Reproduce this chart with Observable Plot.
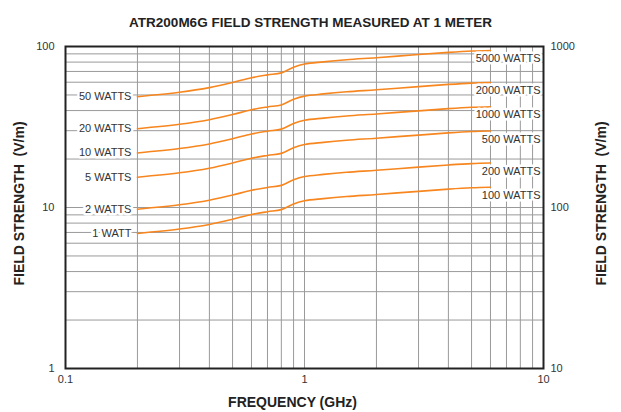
<!DOCTYPE html>
<html>
<head>
<meta charset="utf-8">
<script src="https://cdn.jsdelivr.net/npm/d3@7"></script>
<script src="https://cdn.jsdelivr.net/npm/@observablehq/plot@0.6"></script>
<style>
  html, body { margin: 0; padding: 0; background: #fff; }
  svg { font-family: "Liberation Sans", Arial, Helvetica, sans-serif; }
</style>
</head>
<body>
<div id="chart"></div>
<script>
// Frequency points (GHz)
const freqs = [0.2, 0.3, 0.4, 0.5, 0.6, 0.7, 0.8, 0.9, 1.0, 1.2, 1.5, 2, 3, 4, 5, 6];

// Field strength (V/m, left axis) for each input power
const w1  = [6.90, 7.35, 7.85, 8.45, 9.05, 9.42, 9.70, 10.50, 11.00, 11.35, 11.70, 12.05, 12.60, 13.00, 13.25, 13.35];
const w2  = [9.76, 10.39, 11.10, 11.95, 12.80, 13.32, 13.72, 14.85, 15.56, 16.05, 16.55, 17.04, 17.82, 18.38, 18.74, 18.88];
const w5  = [15.43, 16.44, 17.55, 18.89, 20.24, 21.06, 21.69, 23.48, 24.60, 25.38, 26.16, 26.94, 28.17, 29.07, 29.63, 29.85];
const w10 = [21.82, 23.24, 24.82, 26.72, 28.62, 29.79, 30.67, 33.20, 34.79, 35.89, 37.00, 38.11, 39.84, 41.11, 41.90, 42.22];
const w20 = [30.86, 32.87, 35.11, 37.79, 40.47, 42.13, 43.38, 46.96, 49.19, 50.76, 52.32, 53.89, 56.35, 58.14, 59.26, 59.70];
const w50 = [48.79, 51.97, 55.51, 59.75, 63.99, 66.61, 68.59, 74.25, 77.78, 80.26, 82.73, 85.21, 89.10, 91.92, 93.69, 94.40];

// Labels: left (low power) and right (high power, read on right axis = 10x)
const leftLabels  = ["1 WATT", "2 WATTS", "5 WATTS", "10 WATTS", "20 WATTS", "50 WATTS"];
const rightLabels = ["100 WATTS", "200 WATTS", "500 WATTS", "1000 WATTS", "2000 WATTS", "5000 WATTS"];

// Axis ticks
const xTicks = [0.1, 1, 10];
const xTickLabels = ["0.1", "1", "10"];
const yTicks = [1, 10, 100];
const yLeftTickLabels = ["1", "10", "100"];
const yRightTickLabels = ["10", "100", "1000"];
const xGrid = [0.2,0.3,0.4,0.5,0.6,0.7,0.8,0.9,1,2,3,4,5,6,7,8,9];
const yGrid = [2,3,4,5,6,7,8,9,10,20,30,40,50,60,70,80,90];

const titleText = "ATR200M6G FIELD STRENGTH MEASURED AT 1 METER";
const xTitle = "FREQUENCY (GHz)";
const yTitle = "FIELD STRENGTH\u00a0\u00a0(V/m)";

const series = [w1, w2, w5, w10, w20, w50];
const rows = [];
series.forEach((vals, s) => vals.forEach((v, j) => rows.push({f: freqs[j], v, s})));
const starts = series.map((vals, s) => ({f: freqs[0], v: vals[0], label: leftLabels[s]}));
const ends = series.map((vals, s) => ({f: xTicks[2], v: vals[vals.length - 1], label: rightLabels[s]}));

const gridColor = "#9a9a9a";
const orange = "#f7861f";

const fmt = (ticks, labels) => (d) => labels[ticks.findIndex(t => Math.abs(t - d) < 1e-9)];

const chart = Plot.plot({
  width: 621,
  height: 412,
  marginLeft: 65,
  marginRight: 78,
  marginTop: 46,
  marginBottom: 44,
  style: {fontFamily: "'Liberation Sans', Arial, sans-serif", fontSize: "11px", color: "#333", background: "#fff"},
  x: {type: "log", domain: [0.1, 10]},
  y: {type: "log", domain: [1, 100]},
  marks: [
    Plot.gridX(xGrid, {stroke: gridColor, strokeOpacity: 1, strokeWidth: 1}),
    Plot.gridY(yGrid, {stroke: gridColor, strokeOpacity: 1, strokeWidth: 1}),
    Plot.line(rows, {x: "f", y: "v", z: "s", stroke: orange, strokeWidth: 1.6, curve: "catmull-rom"}),
    Plot.text(starts, {x: "f", y: "v", text: "label", textAnchor: "end", dx: -6, fontSize: 11, fill: "#333", stroke: "white", strokeWidth: 5}),
    Plot.text(ends, {x: "f", y: "v", text: "label", textAnchor: "end", dx: -3, dy: 8, fontSize: 11, fill: "#333", stroke: "white", strokeWidth: 5}),
    Plot.axisX({ticks: xTicks, tickFormat: fmt(xTicks, xTickLabels), tickSize: 0, tickPadding: 7, fontSize: 11,
      label: xTitle, labelAnchor: "center", labelArrow: "none", labelOffset: 38}),
    Plot.axisY({anchor: "left", ticks: yTicks, tickFormat: fmt(yTicks, yLeftTickLabels), tickSize: 0, tickPadding: 11, fontSize: 11,
      label: yTitle, labelAnchor: "center", labelArrow: "none", labelOffset: 51}),
    Plot.axisY({anchor: "right", ticks: yTicks, tickFormat: fmt(yTicks, yRightTickLabels), tickSize: 0, tickPadding: 7, fontSize: 11,
      label: yTitle, labelAnchor: "center", labelArrow: "none", labelOffset: 62}),
    Plot.frame({stroke: "#222", strokeWidth: 2}),
    Plot.text([titleText], {frameAnchor: "top", dy: -29, dx: 6, fontSize: 13.5, fontWeight: "bold", fill: "#222"})
  ]
});

// Bold axis titles, nudged to match the reference placement
const shift = (sel, tx, ty) => sel.each(function() {
  const g = d3.select(this);
  g.attr("transform", ((g.attr("transform") || "") + ` translate(${tx},${ty})`).trim());
});
const xLab = d3.select(chart).selectAll("g[aria-label='x-axis label']");
const yLab = d3.select(chart).selectAll("g[aria-label='y-axis label']");
xLab.selectAll("text").attr("font-weight", "bold").attr("font-size", 14).attr("fill", "#222");
yLab.selectAll("text").attr("font-weight", "bold").attr("font-size", 14).attr("fill", "#222");
shift(xLab, -12, 0);
shift(yLab, 0, -4);

document.getElementById("chart").appendChild(chart);
</script>
</body>
</html>
